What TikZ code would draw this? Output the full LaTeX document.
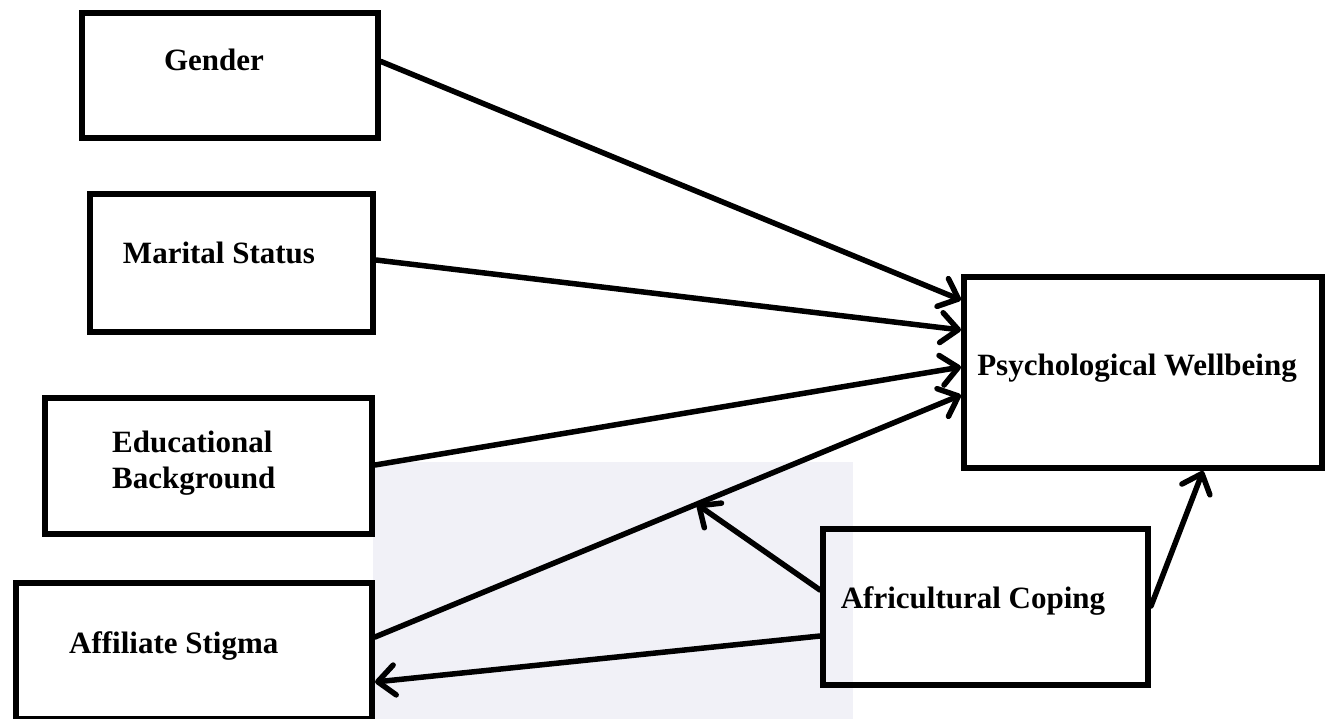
\documentclass[tikz,border=0pt]{standalone}
\usepackage{fontspec}
\setmainfont{Liberation Serif}
\usetikzlibrary{arrows.meta,calc}
\definecolor{wmark}{RGB}{241,241,247}
\begin{document}
\begin{tikzpicture}[x=1pt,y=-1pt,
  box/.style={draw=black, line width=6pt, rectangle, inner sep=0pt, anchor=north west},
  lbl/.style={font=\fontsize{31}{36}\selectfont\bfseries, inner sep=0pt, anchor=base},
  conn/.style={line width=5.5pt, line cap=round, -{Straight Barb[length=17pt,width=30pt,line width=5.5pt,round]}}]
\useasboundingbox (0,0) rectangle (1327,719);
\fill[white] (0,0) rectangle (1327,719);
\fill[wmark] (373,462) rectangle (853,719);
% boxes
\node[box, minimum width=296pt, minimum height=125pt] (g) at (79,10) {};
\node[box, minimum width=283pt, minimum height=138pt] (m) at (87,191) {};
\node[box, minimum width=327pt, minimum height=136pt] (e) at (42,395) {};
\node[box, minimum width=356pt, minimum height=136pt] (a) at (13,580) {};
\node[box, minimum width=358pt, minimum height=191pt] (p) at (961,274) {};
\node[box, minimum width=325pt, minimum height=156pt] (c) at (820,526) {};
% labels
\node[lbl] (gt) at (214,71) {Gender};
\node[lbl] (mt) at (219,263) {Marital Status};
\node[lbl, anchor=base west] (et1) at (112,452) {Educational};
\node[lbl, anchor=base west] (et2) at (112,488) {Background};
\node[lbl, anchor=base west] (at) at (69,653) {Affiliate Stigma};
\node[lbl] (pt) at (1137,375) {Psychological Wellbeing};
\node[lbl] (ct) at (973,608) {Africultural Coping};
% connector end points
\coordinate (gs) at ([yshift=14pt]g.east);
\coordinate (ms) at ([yshift=3pt]m.east);
\coordinate (es) at ([yshift=1pt]e.east);
\coordinate (as) at ([yshift=14pt]a.east);
\coordinate (ai) at ([yshift=-31pt]a.east);
\coordinate (p1) at ([yshift=72.5pt]p.west);
\coordinate (p2) at ([yshift=42.5pt]p.west);
\coordinate (p3) at ([yshift=5.5pt]p.west);
\coordinate (p4) at ([yshift=-22.5pt]p.west);
\coordinate (pb) at ([xshift=60pt]p.south);
\coordinate (c1) at ([yshift=17pt]c.west);
\coordinate (c2) at ([yshift=-29pt]c.west);
\coordinate (c3) at ([yshift=1pt]c.east);
\coordinate (mid) at ($(as)!0.549!(p4)$);
% connectors
\draw[conn] (gs) -- (p1);
\draw[conn] (ms) -- (p2);
\draw[conn] (es) -- (p3);
\draw[conn] (as) -- (p4);
\draw[conn] (c1) -- (mid);
\draw[conn] (c2) -- (ai);
\draw[conn] (c3) -- (pb);
\end{tikzpicture}
\end{document}
